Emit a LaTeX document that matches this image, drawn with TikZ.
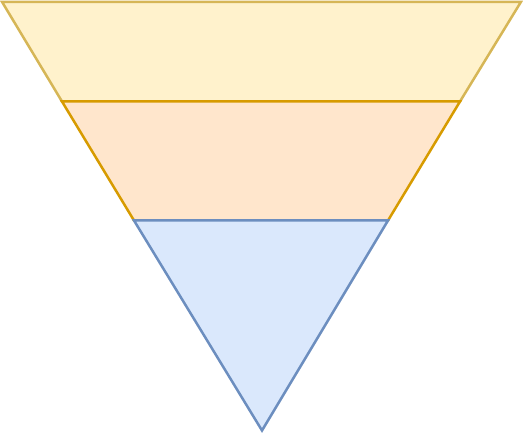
\documentclass[tikz,border=0pt]{standalone}
\usetikzlibrary{calc}
\definecolor{topfill}{HTML}{FFF2CC}
\definecolor{topline}{HTML}{D6B656}
\definecolor{midfill}{HTML}{FFE6CC}
\definecolor{midline}{HTML}{D79B00}
\definecolor{lowfill}{HTML}{DAE8FC}
\definecolor{lowline}{HTML}{6C8EBF}
\tikzset{
    band/.style     = {line width=2.5pt, line join=miter},
    topband/.style  = {band, fill=topfill, draw=topline},
    midband/.style  = {band, fill=midfill, draw=midline},
    lowband/.style  = {band, fill=lowfill, draw=lowline}
}

\begin{document}
\begin{tikzpicture}[x=1pt, y=-1pt]
        \useasboundingbox (0,0) rectangle (523,433);

        % Corners of the funnel
        \coordinate (tl) at (2, 1.8);
        \coordinate (tr) at (521, 1.8);
        \coordinate (ml) at (62, 101.5);
        \coordinate (mr) at (460, 101.5);
        \coordinate (ll) at (134, 220.5);
        \coordinate (lr) at (388, 220.5);
        \coordinate (tip) at (262, 430.5);

        % Bands, top to bottom
        \draw[topband] (tl) -- (tr) -- (mr) -- (ml) -- cycle;
        \draw[midband] (ml) -- (mr) -- (lr) -- (ll) -- cycle;
        \draw[lowband] (ll) -- (lr) -- (tip) -- cycle;

    \end{tikzpicture}
\end{document}
